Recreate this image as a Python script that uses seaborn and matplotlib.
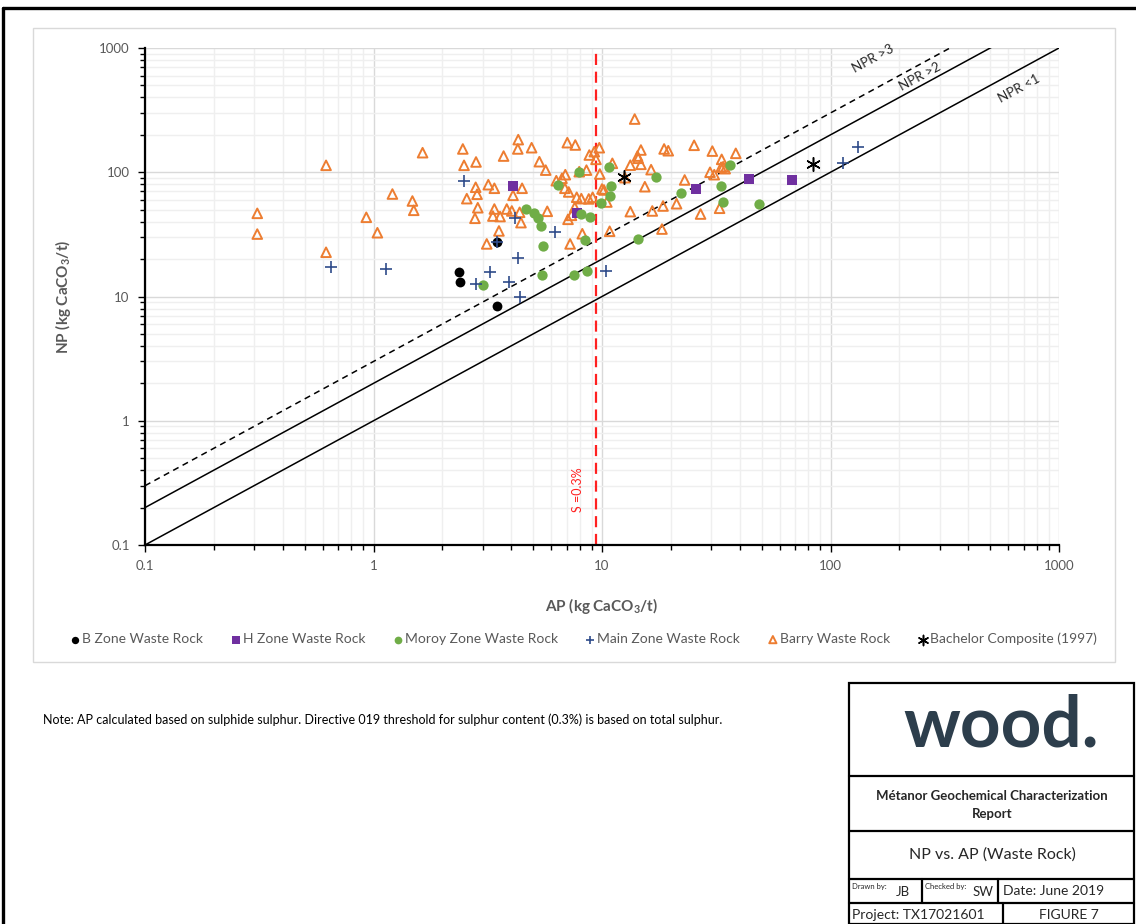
import matplotlib
matplotlib.use("Agg")
import matplotlib.pyplot as plt
from matplotlib.lines import Line2D
from matplotlib.patches import Rectangle
from matplotlib.ticker import LogLocator, NullFormatter, FuncFormatter
import seaborn as sns

# ---------------- data (kg CaCO3/t) ----------------
b_zone_ap = [2.37, 2.39, 3.47, 3.47]
b_zone_np = [15.7, 13.1, 27.5, 8.4]

h_zone_ap = [4.08, 7.75, 25.9, 43.9, 67.6]
h_zone_np = [77.5, 46.7, 72.9, 88.3, 86.7]

moroy_ap = [3.0, 4.63, 5.04, 5.26, 5.41, 5.53, 5.46, 7.56, 8.6, 8.4, 8.12, 8.83, 6.4,
            7.93, 9.9, 10.7, 11.0, 10.8, 17.2, 22.2, 14.4, 33.1, 33.9, 36.3, 48.7]
moroy_np = [12.3, 50.6, 46.7, 42.6, 36.7, 25.6, 15.0, 15.0, 16.1, 28.5, 46.4, 43.9, 79.4,
            101, 56.6, 109.6, 77.5, 64.8, 92.1, 68.1, 29.0, 77.5, 57.6, 113.7, 55.2]

main_ap = [0.65, 1.13, 2.49, 4.16, 3.47, 4.3, 3.22, 2.8, 3.93, 4.36, 6.23, 10.4, 132, 113.8]
main_np = [17.4, 16.6, 85, 42.6, 27.5, 20.5, 15.8, 12.5, 13.1, 10.0, 32.8, 16.1, 160.6, 119.4]

barry_ap = [0.31, 0.31, 0.62, 0.62, 0.93, 1.04, 1.21, 1.48, 1.50, 1.64,
            2.46, 2.49, 2.81, 2.80, 2.84, 2.56, 2.86, 2.78, 3.18, 3.38,
            3.38, 3.33, 3.58, 3.54, 3.13, 3.71, 4.30, 4.28, 4.92, 5.32,
            4.08, 3.83, 4.03, 4.36, 4.42, 4.47, 5.67, 5.76, 6.31, 6.68,
            6.91, 6.88, 7.15, 7.05, 7.64, 7.75, 8.12, 8.75, 9.10, 7.60,
            7.10, 7.35, 7.25, 8.20, 7.95, 8.8, 9.25, 9.73, 9.41, 9.78,
            10.0, 10.5, 10.8, 13.9, 14.8, 14.3, 14.4, 14.8, 13.3, 11.1,
            16.4, 15.4, 12.6, 10.2, 13.3, 16.6, 18.5, 18.3, 18.7, 19.5,
            25.3, 23.0, 21.2, 27.0, 30.4, 33.4, 33.9, 33.2, 34.6, 29.7,
            31.0, 32.7, 38.5, 8.55]
barry_np = [46.7, 31.8, 113.7, 22.7, 43.4, 32.6, 66.8, 58.7, 49.4, 143.7,
            154, 113.7, 121, 75.7, 66.5, 61.3, 51.8, 42.6, 79.4, 74.3,
            50.6, 44.4, 44.0, 33.7, 26.5, 135, 183, 154, 157.6, 121.6,
            65.2, 50.6, 48.8, 47.6, 39.3, 74.3, 104, 48.5, 85.5, 89.4,
            95.6, 74.3, 69.4, 173, 165.7, 62.9, 61.3, 61.0, 62.9, 52.2,
            41.8, 45.0, 26.5, 32.0, 101, 137.6, 146.4, 157.6, 127, 96.8,
            73.3, 57.6, 33.5, 268, 151, 135, 129.5, 115.8, 114, 118,
            104.9, 76.5, 90.4, 72, 48.2, 48.8, 53.5, 34.9, 154, 149,
            164.8, 86.7, 55.8, 46.1, 148, 127, 110.8, 109.6, 106.8, 100,
            95.6, 51.3, 142, 104]

bachelor_ap = [12.5, 84.1]
bachelor_np = [92.1, 116.5]

npr_ratios = [1, 2, 3]
npr_labels = ["NPR <1", "NPR >2", "NPR >3"]
sulphur_threshold_pct = 0.3
ap_factor = 31.25
axis_limits = [0.1, 1000]

# ---------------- style ----------------
sns.set_style("white")
plt.rcParams["font.family"] = ["Lato", "DejaVu Sans"]
plt.rcParams["mathtext.default"] = "regular"
GREY = "#595959"

W, H = 1136, 924
fig = plt.figure(figsize=(W / 100, H / 100), dpi=100)


def fx(x):
    return x / W


def fy(y):
    return 1 - y / H


ax = fig.add_axes([fx(145), fy(545), (1059 - 145) / W, (545 - 48) / H])
ax.set_xscale("log")
ax.set_yscale("log")
ax.set_xlim(axis_limits)
ax.set_ylim(axis_limits)

# grid
for axis in (ax.xaxis, ax.yaxis):
    axis.set_major_locator(LogLocator(base=10, numticks=10))
    axis.set_minor_locator(LogLocator(base=10, subs=range(2, 10), numticks=20))
    axis.set_minor_formatter(NullFormatter())
    axis.set_major_formatter(FuncFormatter(lambda v, p: f"{v:g}"))
ax.grid(which="major", color="#d9d9d9", lw=1.0)
ax.grid(which="minor", color="#efefef", lw=1.0)
ax.set_axisbelow(True)

for s in ("top", "right"):
    ax.spines[s].set_visible(False)
for s in ("left", "bottom"):
    ax.spines[s].set_color("black")
    ax.spines[s].set_linewidth(1.6)
ax.tick_params(which="both", direction="out", color="black", left=True, bottom=True,
               labelcolor=GREY, labelsize=9.5)
ax.tick_params(which="major", length=5, width=1, pad=6)
ax.tick_params(which="minor", length=3.5, width=1)

# NPR reference lines
xs = axis_limits
styles = {1: "-", 2: "-", 3: (0, (4, 3))}
for r in npr_ratios:
    ax.plot(xs, [r * x for x in xs], color="black", lw=1.1, ls=styles[r], zorder=2)

# sulphur threshold line
s_ap = sulphur_threshold_pct * ap_factor
ax.axvline(s_ap, color="#ff2020", lw=1.6, ls=(0, (5, 3)), zorder=2)
ax.text(0.4737, 0.111, "S =0.3%", transform=ax.transAxes, rotation=90, color="#ff2020",
        fontsize=9, ha="center", va="center")

# series
sns.scatterplot(x=b_zone_ap, y=b_zone_np, marker="o", s=50, color="black",
                edgecolor="black", linewidth=0, label="B Zone Waste Rock", ax=ax, zorder=4)
sns.scatterplot(x=h_zone_ap, y=h_zone_np, marker="s", s=55, color="#7030a0",
                edgecolor="#7030a0", linewidth=0, label="H Zone Waste Rock", ax=ax, zorder=4)
sns.scatterplot(x=moroy_ap, y=moroy_np, marker="o", s=55, color="#70ad47",
                edgecolor="#70ad47", linewidth=0, label="Moroy Zone Waste Rock", ax=ax, zorder=4)
sns.scatterplot(x=main_ap, y=main_np, marker="+", s=70, color="#2f4b8a",
                linewidth=1.2, label="Main Zone Waste Rock", ax=ax, zorder=5)
sns.scatterplot(x=barry_ap, y=barry_np, marker="^", s=48, color="#ed7d31",
                facecolor="none", edgecolor="#ed7d31", linewidth=1.4,
                label="Barry Waste Rock", ax=ax, zorder=3)
sns.scatterplot(x=bachelor_ap, y=bachelor_np, marker=(6, 2, 0), s=95, color="black",
                linewidth=1.1, label="Bachelor Composite (1997)", ax=ax, zorder=6)

if ax.get_legend() is not None:
    ax.get_legend().remove()

# NPR labels
rot = 28.5
ax.text(0.796, 0.979, npr_labels[2], transform=ax.transAxes, rotation=rot,
        ha="center", va="center", fontsize=9.5, rotation_mode="anchor")
ax.text(0.848, 0.942, npr_labels[1], transform=ax.transAxes, rotation=rot,
        ha="center", va="center", fontsize=9.5, rotation_mode="anchor")
ax.text(0.956, 0.919, npr_labels[0], transform=ax.transAxes, rotation=rot,
        ha="center", va="center", fontsize=9.5, rotation_mode="anchor")

ax.set_xlabel("AP (kg CaCO$_3$/t)", fontsize=11, fontweight="bold", color=GREY, labelpad=17)
ax.set_ylabel("NP (kg CaCO$_3$/t)", fontsize=11, fontweight="bold", color=GREY, labelpad=19)

handles, labels = ax.get_legend_handles_labels()
fig.legend(handles, labels, loc="center", bbox_to_anchor=(fx(583), fy(639)), ncol=6,
           frameon=False, fontsize=10, labelcolor=GREY, handletextpad=0.1,
           columnspacing=1.95, handlelength=0.8, markerscale=0.75)

# ---------------- page decorations ----------------
fig.add_artist(Rectangle((fx(33), fy(662)), (1115 - 33) / W, (662 - 28) / H,
                         transform=fig.transFigure, fill=False, ec="#d9d9d9", lw=1.0))
# outer black frame
fig.add_artist(Line2D([fx(3), fx(1136)], [fy(8), fy(8)], transform=fig.transFigure,
                      color="black", lw=2.4))
fig.add_artist(Line2D([fx(3), fx(3)], [fy(8), fy(924)], transform=fig.transFigure,
                      color="black", lw=2.4))

fig.text(fx(43), fy(720), "Note: AP calculated based on sulphide sulphur. Directive 019 threshold "
         "for sulphur content (0.3%) is based on total sulphur.", fontsize=9.0,
         color="black", ha="left", va="center")

# title block
tb_l, tb_r, tb_t, tb_b = 849, 1134, 683, 924
lw_tb = 1.6
fig.add_artist(Rectangle((fx(tb_l), fy(tb_b)), (tb_r - tb_l) / W, (tb_b - tb_t) / H,
                         transform=fig.transFigure, fill=False, ec="black", lw=lw_tb))
for yy in (776, 831, 879, 903):
    fig.add_artist(Line2D([fx(tb_l), fx(tb_r)], [fy(yy), fy(yy)], transform=fig.transFigure,
                          color="black", lw=lw_tb))
for xx in (922, 998):
    fig.add_artist(Line2D([fx(xx), fx(xx)], [fy(879), fy(903)], transform=fig.transFigure,
                          color="black", lw=lw_tb))
fig.add_artist(Line2D([fx(1003), fx(1003)], [fy(903), fy(924)], transform=fig.transFigure,
                      color="black", lw=lw_tb))

fig.text(fx(1001), fy(726), "wood.", fontsize=51, fontweight="bold", color="#2d3e4c",
         ha="center", va="center")
fig.text(fx(992), fy(796), "Métanor Geochemical Characterization", fontsize=9.5,
         fontweight="bold", ha="center", va="center")
fig.text(fx(992), fy(814), "Report", fontsize=9.5, fontweight="bold", ha="center", va="center")
fig.text(fx(992), fy(855), "NP vs. AP (Waste Rock)", fontsize=11.5, ha="center", va="center")
fig.text(fx(852), fy(887), "Drawn by:", fontsize=5.5, ha="left", va="center")
fig.text(fx(896), fy(892), "JB", fontsize=9.5, ha="left", va="center")
fig.text(fx(925), fy(887), "Checked by:", fontsize=5.5, ha="left", va="center")
fig.text(fx(973), fy(892), "SW", fontsize=9.5, ha="left", va="center")
fig.text(fx(1003), fy(891), "Date: June 2019", fontsize=10, ha="left", va="center")
fig.text(fx(852), fy(915), "Project: TX17021601", fontsize=10, ha="left", va="center")
fig.text(fx(1069), fy(915), "FIGURE 7", fontsize=10, ha="center", va="center")

fig.savefig("out.png", dpi=100)
